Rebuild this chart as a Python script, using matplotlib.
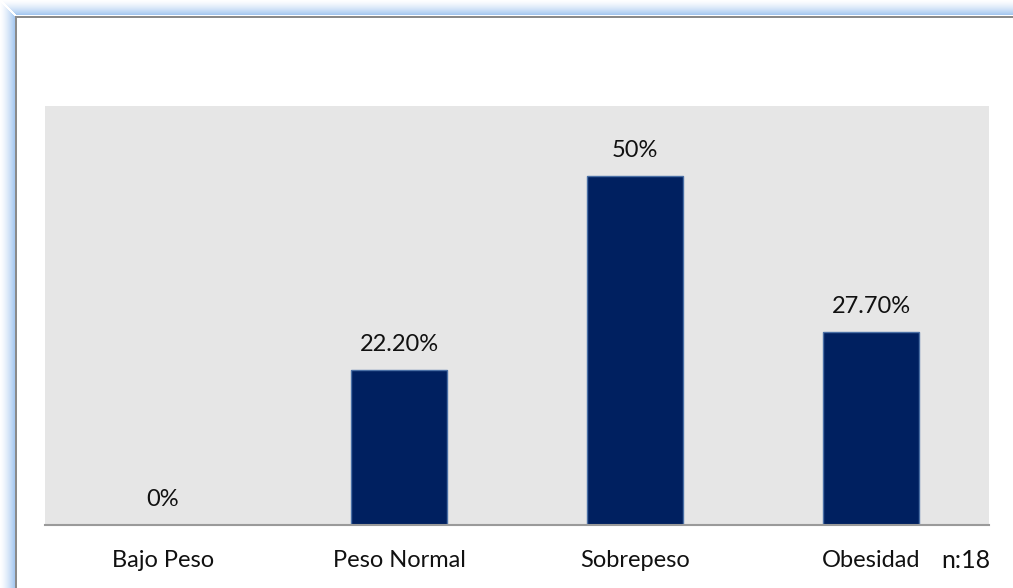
import numpy as np
import matplotlib.pyplot as plt
from matplotlib.patches import Rectangle

categorias = ["Bajo Peso", "Peso Normal", "Sobrepeso", "Obesidad"]
porcentajes = [0, 22.2, 50, 27.7]
etiquetas = ["0%", "22.20%", "50%", "27.70%"]
nota = "n:18"

W, H = 1013, 588
fig = plt.figure(figsize=(W / 100, H / 100), dpi=100)
fig.patch.set_facecolor("white")

# marco azul con degradado (arriba e izquierda)
glow = np.array([0xA6, 0xC8, 0xF0]) / 255
white = np.array([1.0, 1.0, 1.0])
steps = 15
for i in range(steps):
    t = (i + 1) / steps
    col = white * (1 - t ** 1.5) + glow * t ** 1.5
    fig.patches.append(Rectangle((i / W, 0), 1 / W, 1 - (i + 2) / H,
                                 transform=fig.transFigure, color=col, lw=0))
    fig.patches.append(Rectangle(((i + 2) / W, 1 - (i + 1) / H), 1, 1 / H,
                                 transform=fig.transFigure, color=col, lw=0))
fig.patches.append(Rectangle((15 / W, 0), 2 / W, 1 - 16 / H,
                             transform=fig.transFigure, color="#8a8a8a", lw=0))
fig.patches.append(Rectangle((15 / W, 1 - 18 / H), 1, 2 / H,
                             transform=fig.transFigure, color="#8a8a8a", lw=0))

ax = fig.add_axes([45 / W, (H - 525) / H, 944 / W, 419 / H])
ax.set_facecolor("#e6e6e6")

FS = 17
x = np.arange(len(categorias))
ax.bar(x, porcentajes, width=0.405, color="#002060", edgecolor="#4a6fa5", linewidth=1)

for xi, v, lab in zip(x, porcentajes, etiquetas):
    ax.annotate(lab, (xi, v), xytext=(0, 18), textcoords="offset points",
                ha="center", va="center", fontsize=FS, family="Lato", color="#111111")

ax.set_xlim(-0.5, 3.5)
ax.set_ylim(0, 60)
ax.set_xticks(x)
ax.set_xticklabels(categorias, fontsize=FS, family="Lato", color="#111111")
ax.tick_params(axis="x", length=0, pad=18)
ax.set_yticks([])
for s in ["top", "right", "left"]:
    ax.spines[s].set_visible(False)
ax.spines["bottom"].set_color("#9a9a9a")
ax.spines["bottom"].set_linewidth(1.5)

fig.text(966 / W, 1 - 560 / H, nota, ha="center", va="center",
         fontsize=FS + 1, family="Lato", color="#111111")

fig.savefig("out.png", dpi=100)
